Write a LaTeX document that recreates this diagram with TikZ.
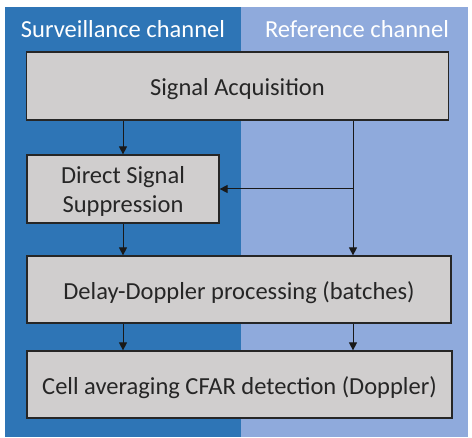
\documentclass[tikz,border=0pt]{standalone}
\usepackage{fontspec}
\setmainfont{Carlito}
\usetikzlibrary{arrows.meta}
\definecolor{darkblue}{HTML}{2E75B6}
\definecolor{lightblue}{HTML}{8FAADC}
\definecolor{boxgray}{HTML}{D0CECE}
\begin{document}
\begin{tikzpicture}[x=1pt,y=-1pt,
  procbox/.style={draw=black!85,line width=1.2pt,fill=boxgray,inner sep=0pt},
  boxtext/.style={inner sep=0pt,font=\fontsize{24.5}{29}\selectfont,text=black!85,align=center},
  header/.style={font=\fontsize{24.5}{28}\selectfont,text=white},
  conn/.style={line width=1pt,draw=black!90,-{Triangle[length=8pt,width=8pt]}}]
\useasboundingbox (0,0) rectangle (472,438);
\fill[white] (0,0) rectangle (472,438);
\fill[darkblue] (5,7) rectangle (241,437);
\fill[lightblue] (241,7) rectangle (468,437);
\node[header] (hs) at (123,29) {Surveillance channel};
\node[header] (hr) at (357,29) {Reference channel};
\node[procbox,minimum width=422pt,minimum height=68pt] (sa) at (237.5,86) {};
\node[procbox,minimum width=192pt,minimum height=68pt] (dss) at (123,189) {};
\node[procbox,minimum width=424pt,minimum height=67pt] (dd) at (239,289.5) {};
\node[procbox,minimum width=425pt,minimum height=67pt] (cf) at (239.5,384.5) {};
\node[boxtext] (sat) at ([yshift=-3pt]sa.center) {Signal Acquisition};
\node[boxtext] (dsst) at ([yshift=-2.5pt]dss.center) {Direct Signal\\Suppression};
\node[boxtext] (ddt) at ([yshift=-3pt]dd.center) {Delay-Doppler processing (batches)};
\node[boxtext] (cft) at ([yshift=-3pt]cf.center) {Cell averaging CFAR detection (Doppler)};
\coordinate (j) at (353,189);
\draw[conn] (sa.south -| dss) -- (dss.north);
\draw[conn] (dss.south) -- (dd.north -| dss);
\draw[conn] (sa.south -| j) -- (dd.north -| j);
\draw[conn] (j) -- (dss.east);
\draw[conn] (dd.south -| dss) -- (cf.north -| dss);
\draw[conn] (dd.south -| j) -- (cf.north -| j);
\end{tikzpicture}
\end{document}
